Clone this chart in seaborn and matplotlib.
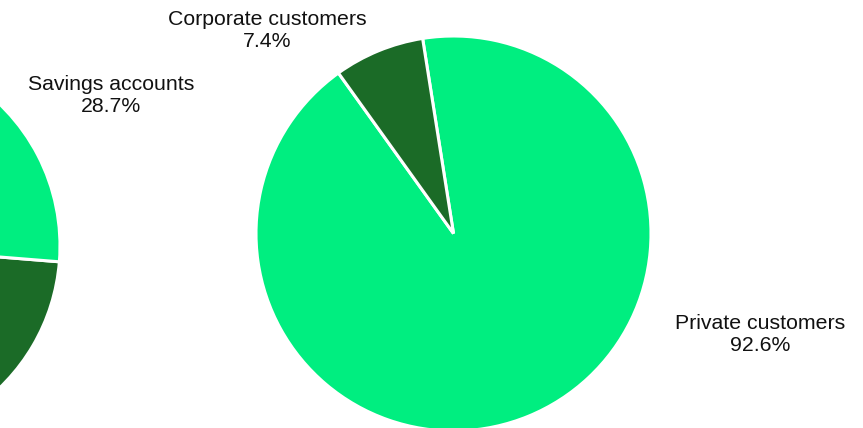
import matplotlib
matplotlib.use("Agg")
import matplotlib.pyplot as plt
import seaborn as sns

# Data
account_labels = ["Savings accounts"]
account_values = [28.7, 71.3]          # savings, other (other slice is off-canvas)
customer_labels = ["Private customers", "Corporate customers"]
customer_values = [92.6, 7.4]

light_green = "#00EE80"
dark_green = "#1B6B27"

sns.set_theme(style="white")
plt.rcParams["font.family"] = ["Liberation Sans", "DejaVu Sans"]

W, H = 863, 428
fig = plt.figure(figsize=(W / 100, H / 100), dpi=100)

wedge_style = {"edgecolor": "white", "linewidth": 2.2}
label_style = {"ha": "center", "va": "center", "fontsize": 15.3,
               "color": "#111111", "linespacing": 1.2}

# Left pie (mostly outside the visible area)
r_left = 197
cx_left, cy_left = -137, 246
ax1 = fig.add_axes([(cx_left - r_left) / W, (H - cy_left - r_left) / H,
                    2 * r_left / W, 2 * r_left / H])
ax1.pie(account_values, colors=[dark_green, light_green], startangle=-4.6,
        counterclock=False, wedgeprops=wedge_style)
ax1.set_xlim(-1, 1)
ax1.set_ylim(-1, 1)
ax1.set_aspect("equal")
ax1.axis("off")
ax1.text(1.258, 0.762, f"{account_labels[0]}\n{account_values[0]}%", **label_style)

# Right pie
r_right = 197.5
cx_right, cy_right = 453.5, 233.5
ax2 = fig.add_axes([(cx_right - r_right) / W, (H - cy_right - r_right) / H,
                    2 * r_right / W, 2 * r_right / H])
ax2.pie(customer_values, colors=[light_green, dark_green], startangle=99,
        counterclock=False, wedgeprops=wedge_style)
ax2.set_xlim(-1, 1)
ax2.set_ylim(-1, 1)
ax2.set_aspect("equal")
ax2.axis("off")
ax2.text(1.554, -0.51, f"{customer_labels[0]}\n{customer_values[0]}%", **label_style)
ax2.text(-0.944, 1.03, f"{customer_labels[1]}\n{customer_values[1]}%", **label_style)

fig.savefig("out.png", dpi=100)
